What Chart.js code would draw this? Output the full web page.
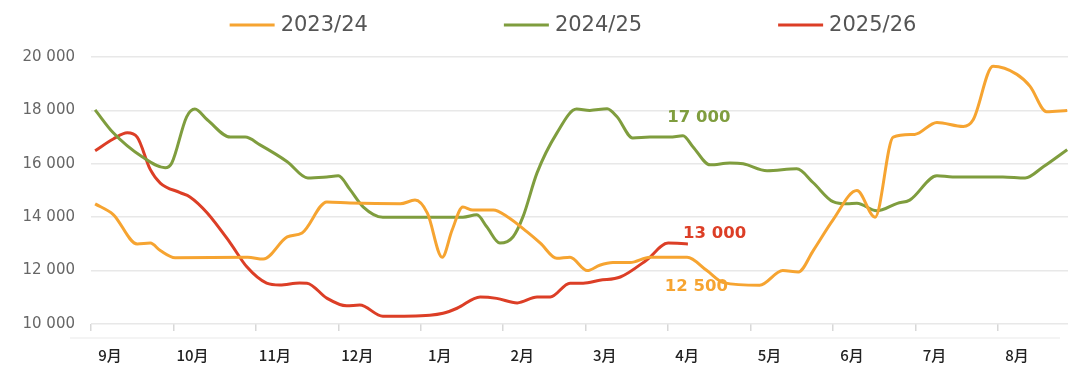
<!DOCTYPE html>
<html>
<head>
<meta charset="utf-8">
<script src="https://cdn.jsdelivr.net/npm/chart.js@4/dist/chart.umd.min.js"></script>
<style>
  body { margin: 0; background: #fff; }
  #wrap { width: 1080px; height: 387px; position: relative; }
</style>
</head>
<body>
<div id="wrap"><canvas id="g1"></canvas></div>
<script>
// month labels, one per month starting in September
const months = ["9月", "10月", "11月", "12月", "1月", "2月", "3月", "4月", "5月", "6月", "7月", "8月"];
const seasons = ["2023/24", "2024/25", "2025/26"];
const colors = ["#F6A431", "#7F9D3E", "#DC3E26"];

// x = months since 1 Sep, y = value
const x2324 = [0.05, 0.27, 0.56, 0.72, 0.84, 1.02, 1.9, 2.09, 2.38, 2.56, 2.86, 3.14, 3.75, 3.93, 4.08, 4.26, 4.38, 4.51, 4.63, 4.88, 5.05, 5.29, 5.45, 5.65, 5.81, 6.02, 6.17, 6.33, 6.54, 6.78, 7.23, 7.47, 7.67, 8.11, 8.39, 8.58, 8.76, 9.0, 9.29, 9.51, 9.73, 9.99, 10.26, 10.58, 10.7, 10.94, 11.23, 11.39, 11.59, 11.84];
const y2324 = [14500, 14100, 13000, 13030, 12750, 12480, 12500, 12430, 13260, 13410, 14570, 14530, 14500, 14640, 14150, 12500, 13520, 14380, 14270, 14270, 14020, 13450, 13030, 12460, 12500, 12000, 12200, 12300, 12300, 12500, 12500, 12000, 11550, 11450, 12000, 11950, 12750, 13900, 15000, 14000, 17000, 17100, 17550, 17400, 17650, 19650, 19350, 18900, 17950, 18000];

const x2425 = [0.05, 0.27, 0.62, 0.9, 0.98, 1.16, 1.26, 1.41, 1.69, 1.87, 2.05, 2.38, 2.63, 2.86, 3.0, 3.14, 3.3, 3.54, 4.51, 4.68, 4.8, 4.96, 5.12, 5.24, 5.41, 5.65, 5.89, 6.05, 6.26, 6.38, 6.57, 6.78, 7.02, 7.18, 7.3, 7.51, 7.75, 7.91, 8.2, 8.56, 8.76, 9.0, 9.17, 9.29, 9.53, 9.78, 9.93, 10.26, 10.45, 11.06, 11.33, 11.55, 11.84];
const y2425 = [18020, 17160, 16260, 15850, 16030, 17760, 18050, 17650, 17000, 17000, 16710, 16080, 15470, 15510, 15550, 15040, 14390, 14000, 14000, 14090, 13640, 13030, 13270, 14020, 15660, 17150, 18050, 18000, 18060, 17760, 16970, 17000, 17000, 17050, 16640, 15960, 16030, 16000, 15740, 15810, 15290, 14580, 14500, 14520, 14240, 14520, 14640, 15550, 15510, 15510, 15470, 15890, 16530];

const x2526 = [0.05, 0.27, 0.44, 0.56, 0.72, 0.84, 1.08, 1.2, 1.41, 1.69, 1.89, 2.13, 2.29, 2.53, 2.62, 2.86, 3.1, 3.26, 3.54, 4.11, 4.27, 4.44, 4.72, 4.92, 5.17, 5.41, 5.57, 5.81, 5.97, 6.17, 6.42, 6.74, 7.0, 7.24];
const y2526 = [16490, 16930, 17160, 17000, 15780, 15280, 14920, 14760, 14160, 13030, 12140, 11530, 11460, 11540, 11530, 10970, 10680, 10710, 10290, 10330, 10400, 10590, 11010, 10960, 10790, 11010, 11010, 11530, 11530, 11640, 11760, 12400, 13030, 13000];

// value labels
const noteText = ["17 000", "13 000", "12 500"];
const noteX = [6.99, 7.18, 6.96];
const noteY = [17715, 13370, 11390];
const noteColor = ["#7F9D3E", "#DC3E26", "#F6A431"];

function zip(xs, ys) {
  return xs.map((x, i) => ({ x: x, y: ys[i] }));
}

const legendPlugin = {
  id: "topLegend",
  afterDraw(chart) {
    const ctx = chart.ctx;
    ctx.save();
    ctx.font = "21px 'DejaVu Sans'";
    const lineLen = 45, gapText = 6, gapItem = 136;
    const widths = seasons.map(s => ctx.measureText(s).width);
    let total = 0;
    widths.forEach(w => total += lineLen + gapText + w);
    total += gapItem * (seasons.length - 1);
    let x = 573 - total / 2;
    const y = 25;
    seasons.forEach((s, i) => {
      ctx.strokeStyle = colors[i];
      ctx.lineWidth = 3;
      ctx.beginPath();
      ctx.moveTo(x, y);
      ctx.lineTo(x + lineLen, y);
      ctx.stroke();
      ctx.fillStyle = "#555";
      ctx.textBaseline = "middle";
      ctx.fillText(s, x + lineLen + gapText, y + 1);
      x += lineLen + gapText + widths[i] + gapItem;
    });

    // value notes
    ctx.font = "bold 16.5px 'DejaVu Sans'";
    const xs = chart.scales.x, ys = chart.scales.y;
    noteText.forEach((t, i) => {
      ctx.fillStyle = noteColor[i];
      ctx.textAlign = "left";
      ctx.textBaseline = "middle";
      ctx.fillText(t, xs.getPixelForValue(noteX[i]), ys.getPixelForValue(noteY[i]));
    });

    // faint base line under the axis
    ctx.strokeStyle = "#f0f0f0";
    ctx.lineWidth = 1.5;
    ctx.beginPath();
    ctx.moveTo(70, chart.chartArea.bottom + 14);
    ctx.lineTo(1060, chart.chartArea.bottom + 14);
    ctx.stroke();
    ctx.restore();
  }
};

const lineChart = document.getElementById("g1");

const chart = new Chart(lineChart, {
  type: "line",
  data: {
    datasets: [
      { label: seasons[0], data: zip(x2324, y2324), borderColor: colors[0] },
      { label: seasons[1], data: zip(x2425, y2425), borderColor: colors[1] },
      { label: seasons[2], data: zip(x2526, y2526), borderColor: colors[2] }
    ]
  },
  options: {
    responsive: true,
    maintainAspectRatio: false,
    animation: false,
    layout: { padding: { top: 57, right: 12, left: 0, bottom: 0 } },
    elements: {
      point: { radius: 0 },
      line: { borderWidth: 3, cubicInterpolationMode: "monotone", fill: false }
    },
    scales: {
      x: {
        type: "linear",
        min: 0,
        max: 11.85,
        border: { display: false },
        grid: { drawOnChartArea: false, tickLength: 7, color: "#d8d8d8", lineWidth: 1.5 },
        ticks: {
          stepSize: 1,
          includeBounds: false,
          labelOffset: 19,
          padding: 15,
          color: "#222",
          font: { family: "'Noto Sans CJK SC'", size: 15, weight: "500" },
          maxRotation: 0,
          callback: v => months[v]
        },
        afterFit(scale) { scale.height = 63; }
      },
      y: {
        min: 10000,
        max: 20000,
        border: { display: false },
        grid: { drawTicks: false, color: "#e8e8e8", lineWidth: 1.5 },
        ticks: {
          stepSize: 2000,
          padding: 16,
          color: "#666",
          font: { family: "'DejaVu Sans'", size: 15 },
          callback: v => String(v).replace(/\B(?=(\d{3})+(?!\d))/g, " ")
        },
        afterFit(scale) { scale.width = 91; }
      }
    },
    plugins: {
      legend: { display: false },
      tooltip: { enabled: false }
    }
  },
  plugins: [legendPlugin]
});
</script>
</body>
</html>
